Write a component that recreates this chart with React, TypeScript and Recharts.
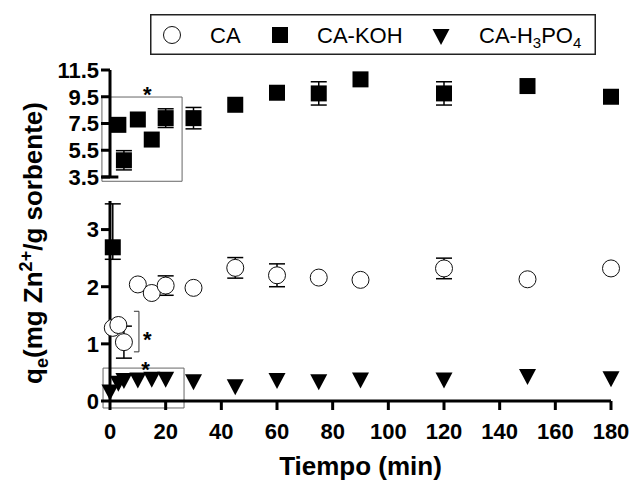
import React from "react";
import {
  ScatterChart,
  Scatter,
  XAxis,
  YAxis,
  ErrorBar,
  ReferenceArea,
  ReferenceLine,
  ReferenceDot,
  Legend,
} from "recharts";

const FONT = "Arial, 'Liberation Sans', sans-serif";

// CA (open circles)
const caTime = [1, 3, 5, 10, 15, 20, 30, 45, 60, 75, 90, 120, 150, 180];
const caValue = [1.28, 1.33, 1.03, 2.04, 1.89, 2.02, 1.98, 2.33, 2.2, 2.16, 2.12, 2.32, 2.13, 2.32];
const caError = [0, 0, 0.28, 0, 0, 0.17, 0, 0.18, 0.2, 0, 0, 0.18, 0, 0];

// CA-KOH (filled squares), upper segment of the broken axis
const kohTime = [3, 5, 10, 15, 20, 30, 45, 60, 75, 90, 120, 150, 180];
const kohValue = [7.4, 4.75, 7.8, 6.3, 7.9, 7.9, 8.9, 9.8, 9.75, 10.8, 9.75, 10.3, 9.5];
const kohError = [0, 0.72, 0, 0, 0.7, 0.8, 0, 0, 0.87, 0, 0.87, 0, 0];

// CA-KOH first point, lower segment
const kohLowTime = [1];
const kohLowValue = [2.69];
const kohLowError = [[0.21, 0.76]];

// CA-H3PO4 (down triangles)
const phTime = [0, 3, 5, 10, 15, 20, 30, 45, 60, 75, 90, 120, 150, 180];
const phValue = [0.15, 0.3, 0.35, 0.36, 0.37, 0.37, 0.33, 0.24, 0.35, 0.33, 0.36, 0.36, 0.42, 0.38];

const xTicks = [0, 20, 40, 60, 80, 100, 120, 140, 160, 180];
const upperTicks = [3.5, 5.5, 7.5, 9.5, 11.5];
const lowerTicks = [0, 1, 2, 3];

const caData = caTime.map((t, i) => ({ t, v: caValue[i], e: caError[i] }));
const kohData = kohTime.map((t, i) => ({ t, v: kohValue[i], e: kohError[i] }));
const kohLowData = kohLowTime.map((t, i) => ({ t, v: kohLowValue[i], e: kohLowError[i] }));
const phData = phTime.map((t, i) => ({ t, v: phValue[i] }));

const OpenCircle = (p: any) => (
  <circle cx={p.cx} cy={p.cy} r={8.5} fill="#fff" stroke="#111" strokeWidth={1} />
);
const FilledSquare = (p: any) => (
  <rect x={p.cx - 8} y={p.cy - 8} width={16} height={16} fill="#000" />
);
const DownTriangle = (p: any) => (
  <path
    d={`M${p.cx - 8.5},${p.cy - 8} L${p.cx + 8.5},${p.cy - 8} L${p.cx},${p.cy + 8} Z`}
    fill="#000"
  />
);

const axisLine = { stroke: "#000", strokeWidth: 3 };
const tickStyle = { fill: "#000", fontSize: 22, fontWeight: 700, fontFamily: FONT };

const LegendBox = () => (
  <svg width={446} height={41} style={{ display: "block" }}>
    <rect x={0.75} y={0.75} width={444.5} height={39.5} fill="#fff" stroke="#222" strokeWidth={1.5} />
    <circle cx={22} cy={21} r={8.5} fill="#fff" stroke="#111" strokeWidth={1} />
    <text x={60} y={29} fontSize={22} fontFamily={FONT} fill="#000">CA</text>
    <rect x={122} y={13} width={16} height={16} fill="#000" />
    <text x={167} y={29} fontSize={22} fontFamily={FONT} fill="#000">CA-KOH</text>
    <path d="M282.5,15 L299.5,15 L291,31 Z" fill="#000" />
    <text x={329} y={29} fontSize={22} fontFamily={FONT} fill="#000">
      CA-H<tspan fontSize={15} dy={5}>3</tspan>
      <tspan dy={-5}>PO</tspan>
      <tspan fontSize={15} dy={5}>4</tspan>
    </text>
  </svg>
);

const YTitle = () => (
  <text
    transform="rotate(-90)"
    x={-243}
    y={42}
    textAnchor="middle"
    fontSize={26}
    fontWeight={700}
    fontFamily={FONT}
    fill="#000"
  >
    q<tspan fontSize={18} dy={6}>e</tspan>
    <tspan dy={-6}>(mg Zn</tspan>
    <tspan fontSize={18} dy={-10}>2+</tspan>
    <tspan dy={10}>/g sorbente)</tspan>
  </text>
);

const starLabel = { value: "*", position: "center" as const, fontSize: 22, fontWeight: 700, fill: "#000", fontFamily: FONT };

export default function App() {
  return (
    <div style={{ position: "absolute", left: 0, top: 0, width: 632, height: 482, background: "#fff" }}>
      <div style={{ position: "absolute", left: 0, top: 0 }}>
        <ScatterChart width={632} height={482} margin={{ top: 70, right: 21, bottom: 305, left: 50 }}>
          <XAxis type="number" dataKey="t" domain={[0, 180]} hide />
          <YAxis
            type="number"
            dataKey="v"
            domain={[3.5, 11.5]}
            ticks={upperTicks}
            interval={0}
            width={60}
            axisLine={axisLine}
            tickLine={axisLine}
            tickSize={9}
            tickMargin={2}
            tick={tickStyle}
          />
          <ReferenceArea x1={-2.9} x2={25.9} y1={3.18} y2={9.48} fill="none" stroke="#666" strokeWidth={1} ifOverflow="visible" />
          <ReferenceLine segment={[{ x: -3, y: 3.5 }, { x: 3, y: 3.5 }]} stroke="#000" strokeWidth={3} ifOverflow="visible" />
          <ReferenceDot x={13.4} y={9.7} r={0} fill="none" stroke="none" label={starLabel} ifOverflow="visible" />
          <Scatter data={kohData} shape={FilledSquare} isAnimationActive={false}>
            <ErrorBar dataKey="e" direction="y" width={8} stroke="#000" strokeWidth={1.5} />
          </Scatter>
        </ScatterChart>
      </div>
      <div style={{ position: "absolute", left: 0, top: 0 }}>
        <ScatterChart width={632} height={482} margin={{ top: 201, right: 21, bottom: 6, left: 50 }}>
          <XAxis
            type="number"
            dataKey="t"
            domain={[0, 180]}
            ticks={xTicks}
            interval={0}
            height={75}
            axisLine={axisLine}
            tickLine={axisLine}
            tickSize={9}
            tickMargin={13}
            tick={tickStyle}
            label={{ value: "Tiempo (min)", position: "insideBottom", offset: 1, fontSize: 26, fontWeight: 700, fill: "#000", fontFamily: FONT }}
          />
          <YAxis
            type="number"
            dataKey="v"
            domain={[0, 3.5]}
            ticks={lowerTicks}
            interval={0}
            width={60}
            axisLine={axisLine}
            tickLine={axisLine}
            tickSize={9}
            tickMargin={2}
            tick={tickStyle}
            label={{ content: () => <YTitle /> }}
          />
          <Legend
            layout="horizontal"
            verticalAlign="middle"
            align="center"
            content={() => <LegendBox />}
            wrapperStyle={{ top: 14, left: 150, width: 446, height: 41 }}
          />
          <ReferenceArea x1={-2.5} x2={26.6} y1={-0.122} y2={0.576} fill="none" stroke="#666" strokeWidth={1} ifOverflow="visible" />
          <ReferenceLine segment={[{ x: 10.4, y: 1.57 }, { x: 10.4, y: 0.86 }]} stroke="#333" strokeWidth={1} ifOverflow="visible" />
          <ReferenceLine segment={[{ x: 8.6, y: 1.57 }, { x: 10.4, y: 1.57 }]} stroke="#333" strokeWidth={1} ifOverflow="visible" />
          <ReferenceLine segment={[{ x: 8.6, y: 0.86 }, { x: 10.4, y: 0.86 }]} stroke="#333" strokeWidth={1} ifOverflow="visible" />
          <ReferenceDot x={13.4} y={1.08} r={0} fill="none" stroke="none" label={starLabel} ifOverflow="visible" />
          <ReferenceDot x={12.8} y={0.56} r={0} fill="none" stroke="none" label={starLabel} ifOverflow="visible" />
          <Scatter data={phData} shape={DownTriangle} isAnimationActive={false} />
          <Scatter data={caData} shape={OpenCircle} isAnimationActive={false}>
            <ErrorBar dataKey="e" direction="y" width={8} stroke="#000" strokeWidth={1.5} />
          </Scatter>
          <Scatter data={kohLowData} shape={FilledSquare} isAnimationActive={false}>
            <ErrorBar dataKey="e" direction="y" width={8} stroke="#000" strokeWidth={1.5} />
          </Scatter>
        </ScatterChart>
      </div>
    </div>
  );
}
